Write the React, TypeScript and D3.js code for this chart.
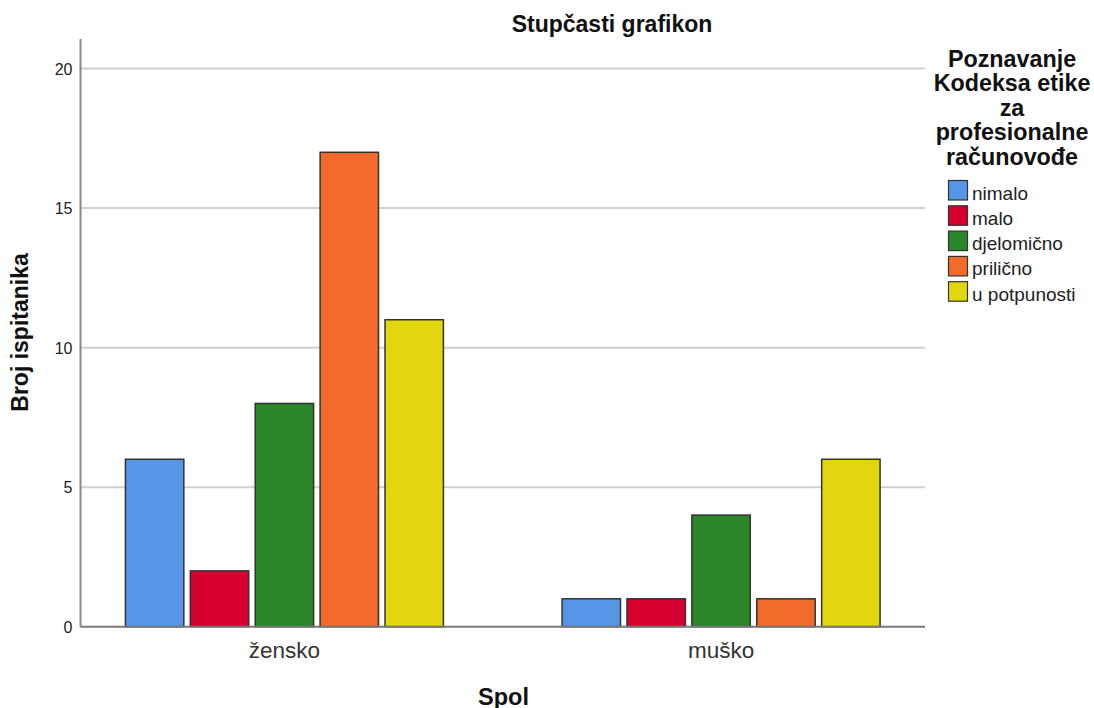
import React from "react";
import * as d3 from "d3";

const groups = ["žensko", "muško"];
const categories = ["nimalo", "malo", "djelomično", "prilično", "u potpunosti"];
const zenskoValues = [6, 2, 8, 17, 11];
const muskoValues = [1, 1, 4, 1, 6];
const seriesValues = [zenskoValues, muskoValues];
const colors = ["#5696E6", "#D6002F", "#2A8629", "#F26B2A", "#E2D70F"];
const yTicks = [0, 5, 10, 15, 20];
const legendTitle = ["Poznavanje", "Kodeksa etike", "za", "profesionalne", "računovođe"];

const W = 1094;
const H = 708;
const left = 80.5;
const right = 925;
const top = 39;
const bottom = 626.7;

export default function App() {
  const y = d3.scaleLinear().domain([0, 21.06]).range([bottom, top]);
  const x0 = d3.scalePoint<string>().domain(groups).range([left, right]).padding(0.467);
  const x1 = d3
    .scaleBand<string>()
    .domain(categories)
    .range([-159, 159])
    .paddingInner(0.1);
  const font = "Arial, 'Liberation Sans', sans-serif";
  return (
    <svg
      width={W}
      height={H}
      style={{ position: "absolute", left: 0, top: 0, background: "#fff" }}
      fontFamily={font}
    >
      <rect width={W} height={H} fill="#fff" />
      <text x={612} y={31.5} textAnchor="middle" fontWeight="bold" fontSize={23} fill="#111">
        Stupčasti grafikon
      </text>
      {yTicks.filter((t) => t > 0).map((t) => (
        <line key={t} x1={left} x2={right} y1={y(t)} y2={y(t)} stroke="#cfcfcf" strokeWidth={2} />
      ))}
      {yTicks.map((t) => (
        <text key={"l" + t} x={72.5} y={y(t) + 6} textAnchor="end" fontSize={16} fill="#222">
          {t}
        </text>
      ))}
      {groups.map((g, gi) =>
        categories.map((c, ci) => {
          const v = seriesValues[gi][ci];
          const xx = (x0(g) as number) + (x1(c) as number);
          return (
            <rect
              key={g + c}
              x={xx}
              y={y(v)}
              width={x1.bandwidth()}
              height={bottom - y(v)}
              fill={colors[ci]}
              stroke="#333"
              strokeWidth={1.5}
            />
          );
        })
      )}
      <line x1={left} x2={left} y1={top} y2={bottom} stroke="#888" strokeWidth={2} />
      <line x1={left} x2={right} y1={bottom} y2={bottom} stroke="#777" strokeWidth={2} />
      {groups.map((g) => (
        <text key={g} x={x0(g)} y={657.5} textAnchor="middle" fontSize={22.5} fill="#333">
          {g}
        </text>
      ))}
      <text x={503.5} y={704.5} textAnchor="middle" fontWeight="bold" fontSize={23.5} fill="#111">
        Spol
      </text>
      <text
        transform={`translate(28,332.5) rotate(-90)`}
        textAnchor="middle"
        fontWeight="bold"
        fontSize={23}
        fill="#111"
      >
        Broj ispitanika
      </text>
      {legendTitle.map((l, i) => (
        <text
          key={l}
          x={1012}
          y={66.7 + i * 24.5}
          textAnchor="middle"
          fontWeight="bold"
          fontSize={23.3}
          fill="#111"
        >
          {l}
        </text>
      ))}
      {categories.map((c, i) => (
        <g key={c} transform={`translate(948.5,${180.5 + i * 25.3})`}>
          <rect x={0} y={0} width={19} height={19.5} fill={colors[i]} stroke="#333" strokeWidth={1.2} />
          <text x={23.5} y={19} fontSize={19} fill="#222">
            {c}
          </text>
        </g>
      ))}
    </svg>
  );
}
